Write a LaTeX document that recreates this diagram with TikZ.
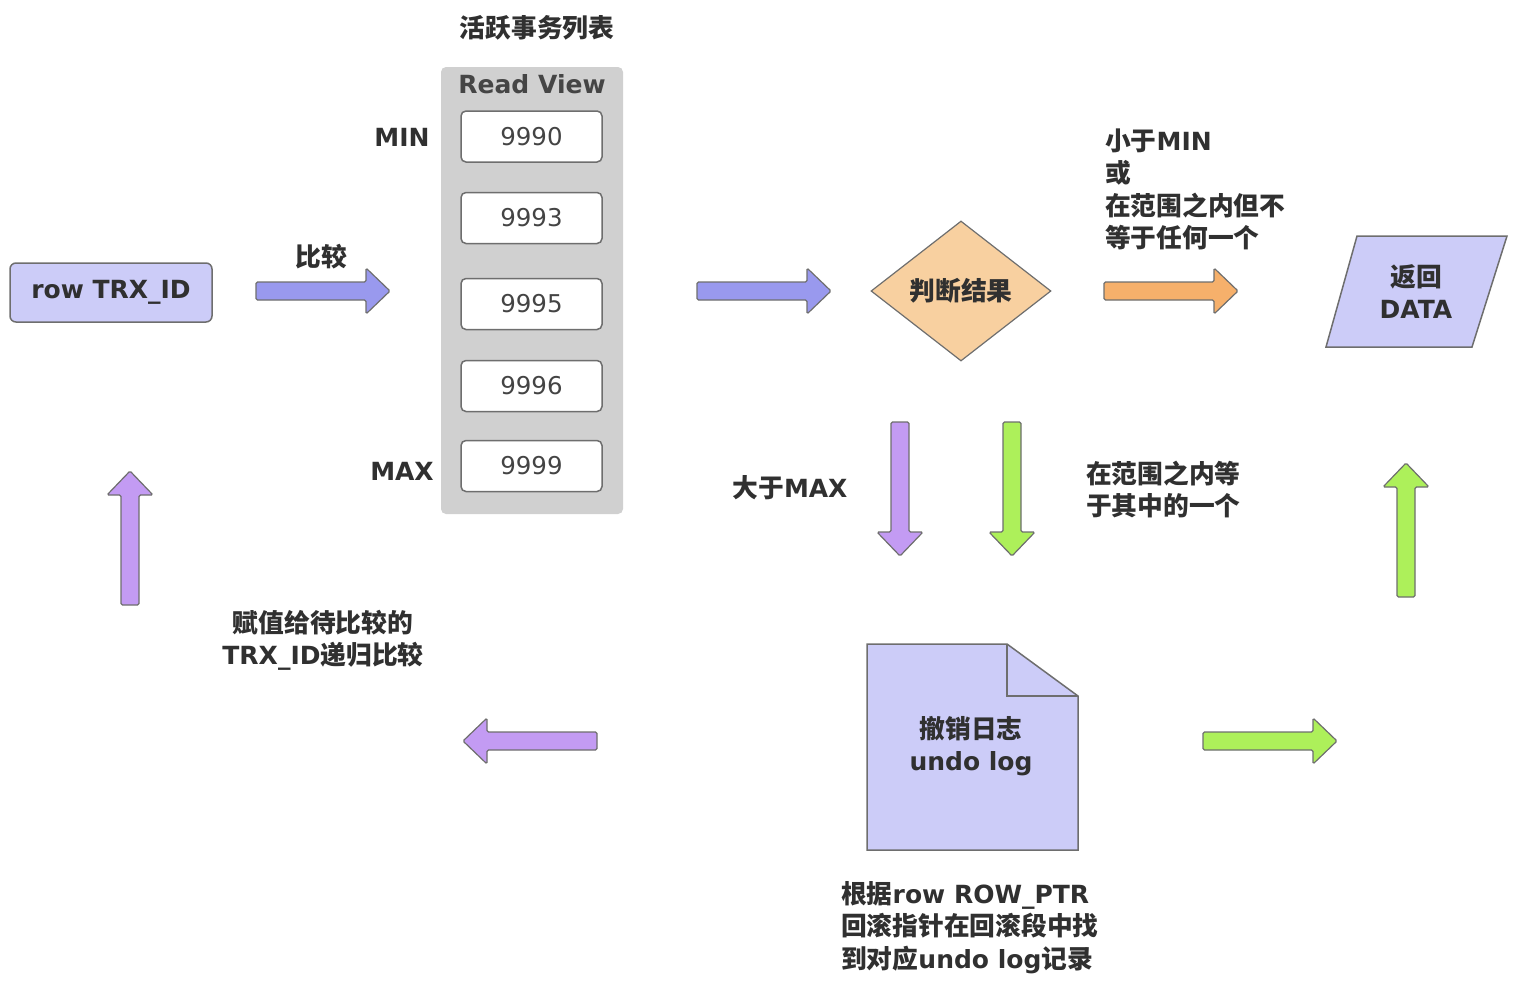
\documentclass[tikz,border=0pt]{standalone}
\usepackage{fontspec}
\setmainfont{DejaVu Sans}
\newfontfamily\cjk[Scale=1.03]{Noto Sans CJK SC}
\usetikzlibrary{shapes.geometric}
\definecolor{txt}{HTML}{303030}
\definecolor{numtxt}{HTML}{444444}
\definecolor{bord}{HTML}{6E6E6E}
\definecolor{lav}{HTML}{CCCCF8}
\definecolor{blueA}{HTML}{9999EE}
\definecolor{purA}{HTML}{C39BF3}
\definecolor{greenA}{HTML}{ADF05A}
\definecolor{orA}{HTML}{F6B06B}
\definecolor{peach}{HTML}{F8D0A0}
\definecolor{panel}{HTML}{D0D0D0}
\tikzset{
  barrow/.pic={\draw[pic actions, line width=1.2pt, rounded corners=1.5pt]
    (0,-9) -- (110,-9) -- (110,-23) -- (134,0) -- (110,23) -- (110,9) -- (0,9) -- cycle;}
}
\begin{document}
\begin{tikzpicture}[x=1pt,y=-1pt,
  lbl/.style={text=txt, font=\fontsize{25}{32.5}\selectfont\bfseries, inner sep=0pt},
  valbox/.style={draw=bord, line width=1.5pt, fill=white, rounded corners=5pt,
    minimum width=141pt, minimum height=51pt, inner sep=0pt, text=numtxt,
    font=\fontsize{24.5}{28}\selectfont},
  arrowstyle/.style={draw=bord}
]
\useasboundingbox (0,0) rectangle (1516,988);

% row TRX_ID
\node[draw=bord, line width=1.5pt, fill=lav, rounded corners=6pt, minimum width=202pt,
  minimum height=59pt, lbl] (row) at (111,292.5) {row TRX\_ID};

% compare arrow
\pic[fill=blueA, arrowstyle] at (256,291) {barrow};
\node[lbl] (cmp) at (321,257) {\cjk 比较};

% Read View panel
\node[lbl] (active) at (537,28) {\cjk 活跃事务列表};
\node[fill=panel, rounded corners=5pt, minimum width=182pt, minimum height=447pt, inner sep=0pt] (rv) at (532,290.5) {};
\node[lbl, text=txt!90] (rvt) at (532,84) {Read View};
\node[valbox] (v0) at (531.5,136.5) {9990};
\node[valbox] (v1) at (531.5,218) {9993};
\node[valbox] (v2) at (531.5,304) {9995};
\node[valbox] (v3) at (531.5,386) {9996};
\node[valbox] (v4) at (531.5,466) {9999};
\node[lbl] (min) at (402,137) {MIN};
\node[lbl] (max) at (402,471) {MAX};

% to decision
\pic[fill=blueA, arrowstyle] at (697,291) {barrow};
\node[diamond, draw=bord, line width=1.2pt, fill=peach, minimum width=180pt, minimum height=140pt,
  inner sep=0pt, lbl] (dec) at (961,291) {\cjk 判断结果};

% orange arrow and label
\pic[fill=orA, arrowstyle] at (1104,291) {barrow};
\node[lbl, align=left, anchor=west] (lt) at (1105,189.5) {{\cjk 小于}MIN\\{\cjk 或}\\{\cjk 在范围之内但不}\\{\cjk 等于任何一个}};

% return data
\draw[fill=lav, draw=bord, line width=1.5pt] (1357,236) -- (1507,236) -- (1472,347) -- (1326,347) -- cycle;
\node[lbl, align=center] (ret) at (1416,291.5) {{\cjk 返回}\\DATA};

% down arrows
\pic[fill=purA, arrowstyle, rotate=-90] at (900,422) {barrow};
\pic[fill=greenA, arrowstyle, rotate=-90] at (1012,422) {barrow};
\node[lbl] (gt) at (790,488) {{\cjk 大于}MAX};
\node[lbl, align=left, anchor=west] (eq) at (1086,489.5) {{\cjk 在范围之内等}\\{\cjk 于其中的一个}};

% up arrows
\pic[fill=greenA, arrowstyle, rotate=90] at (1406,597) {barrow};
\pic[fill=purA, arrowstyle, rotate=90] at (130,605) {barrow};

% undo log document
\draw[fill=lav, draw=bord, line width=1.5pt] (867,644) -- (1007,644) -- (1078,696) -- (1078,850) -- (867,850) -- cycle;
\draw[draw=bord, line width=1.5pt] (1007,644) -- (1007,696) -- (1078,696);
\node[lbl, align=center] (undo) at (971,746) {{\cjk 撤销日志}\\undo log};
\node[lbl, align=left, anchor=west] (ptr) at (841,927.5) {{\cjk 根据}row ROW\_PTR\\{\cjk 回滚指针在回滚段中找}\\{\cjk 到对应}undo log{\cjk 记录}};

% horizontal bottom arrows
\pic[fill=purA, arrowstyle, rotate=180] at (597,741) {barrow};
\pic[fill=greenA, arrowstyle] at (1203,741) {barrow};
\node[lbl, align=center] (assign) at (323,640.5) {{\cjk 赋值给待比较的}\\TRX\_ID{\cjk 递归比较}};
\end{tikzpicture}
\end{document}
